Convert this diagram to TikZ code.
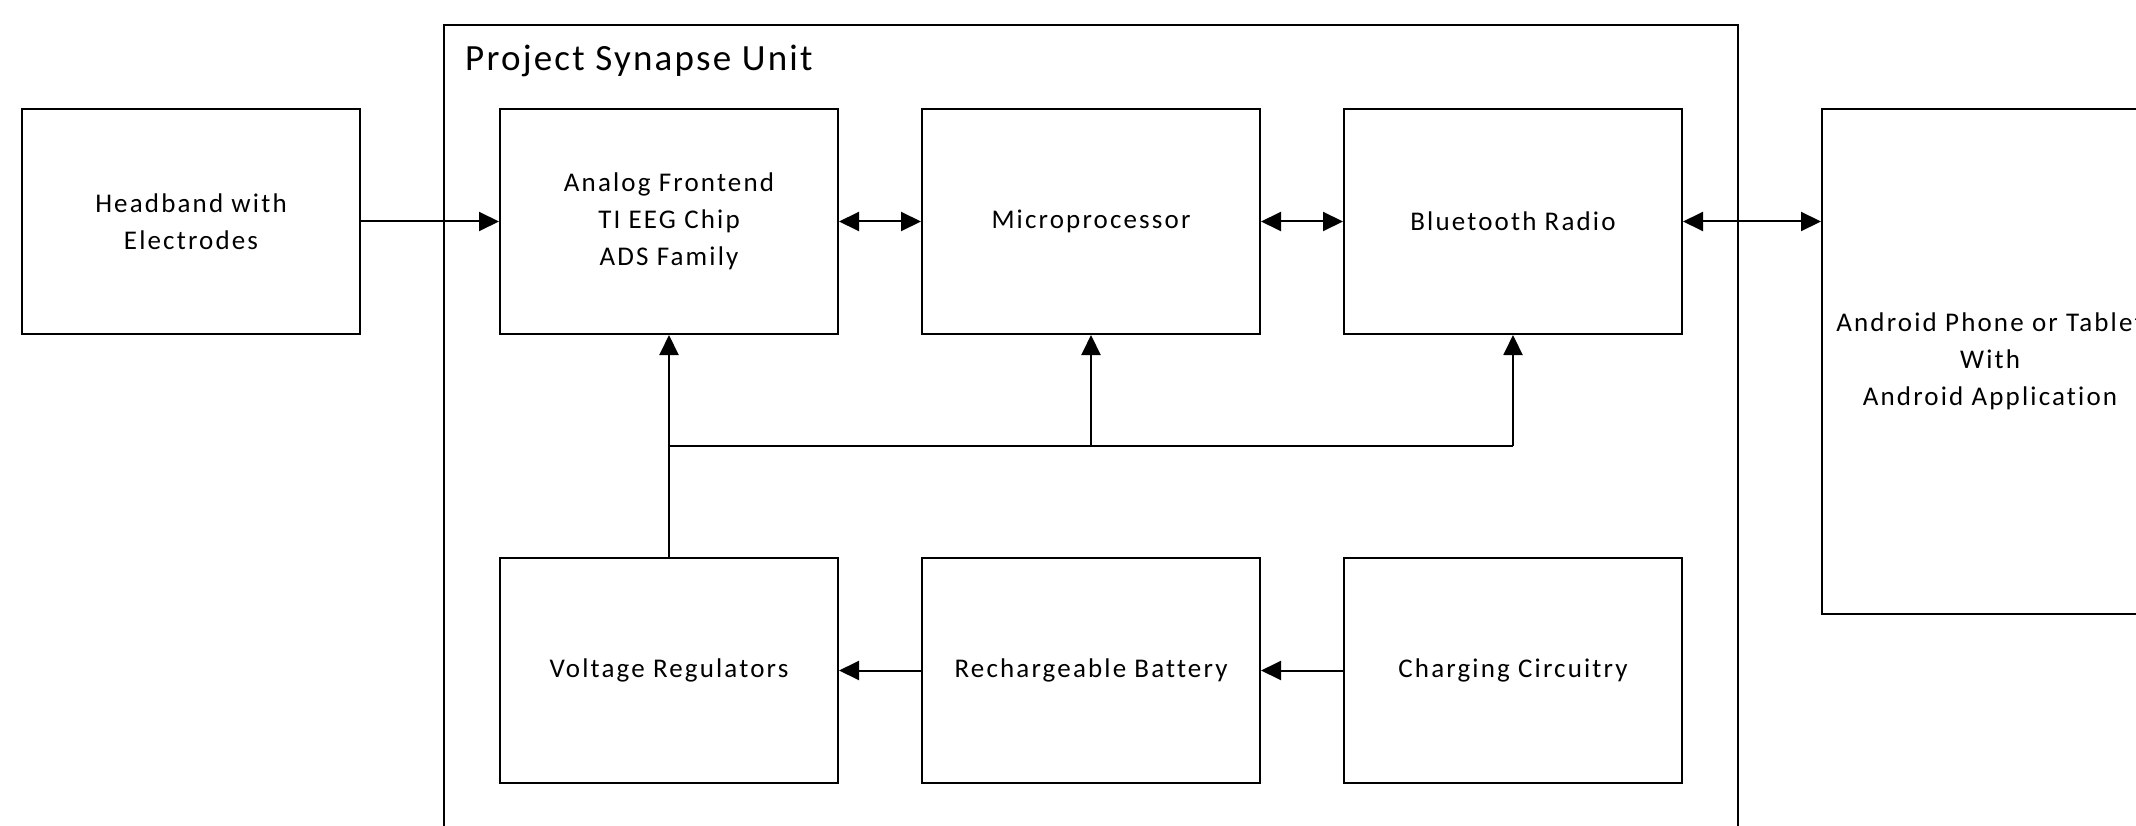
\documentclass[tikz,border=0pt]{standalone}
\usepackage{fontspec}
\setmainfont{Carlito}
\newfontfamily\blockfont[LetterSpace=8,Ligatures=NoCommon]{Carlito}
\newfontfamily\titlefont[LetterSpace=6,Ligatures=NoCommon]{Carlito}
\usetikzlibrary{arrows.meta}

\begin{document}
\begin{tikzpicture}[x=1pt,y=-1pt,
        block/.style={draw,line width=2pt,minimum width=338pt,minimum height=225pt,
            inner sep=0pt,align=center,font=\blockfont\fontsize{27}{37}\selectfont},
        link/.style={line width=2pt,-{Triangle[length=20pt,width=19pt]}},
        dlink/.style={line width=2pt,{Triangle[length=20pt,width=19pt]}-{Triangle[length=20pt,width=19pt]}}]
        \useasboundingbox (0,0) rectangle (2136,826);
        \clip (0,0) rectangle (2136,826);
        %% unit enclosure
        \node[draw,line width=2pt,minimum width=1294.5pt,minimum height=875pt,inner sep=0pt] (unit) at (1090.75,462.5) {};
        \node[anchor=base west,inner sep=0pt,font=\titlefont\fontsize{37}{40}\selectfont] (title) at (465,71) {Project Synapse Unit};
        %% outside blocks
        \node[block] (headband) at (191,221.5) {Headband with\\Electrodes};
        \node[block,minimum width=336pt,minimum height=505pt] (android) at (1990,361.5) {Android Phone or Tablet\\With\\Android Application};
        %% top row
        \node[block] (analog) at (669,221.5) {Analog Frontend\\TI EEG Chip\\ADS Family};
        \node[block] (micro) at (1091,221.5) {Microprocessor};
        \node[block] (radio) at (1513,221.5) {Bluetooth Radio};
        %% bottom row
        \node[block] (regulators) at (669,670.5) {Voltage Regulators};
        \node[block] (battery) at (1091,670.5) {Rechargeable Battery};
        \node[block] (charger) at (1513,670.5) {Charging Circuitry};
        %% signal path
        \draw[link] (headband) -- (analog);
        \draw[dlink] (analog) -- (micro);
        \draw[dlink] (micro) -- (radio);
        \draw[dlink] (radio.east) -- (radio.east -| android.west);
        %% power path
        \coordinate (bus) at (0,445.5);
        \draw[link] (charger) -- (battery);
        \draw[link] (battery) -- (regulators);
        \draw[link] (regulators) -- (analog);
        \draw[line width=2pt] (analog.south |- bus) -- (radio.south |- bus);
        \draw[link] (micro.south |- bus) -- (micro.south);
        \draw[link] (radio.south |- bus) -- (radio.south);
    \end{tikzpicture}
\end{document}
